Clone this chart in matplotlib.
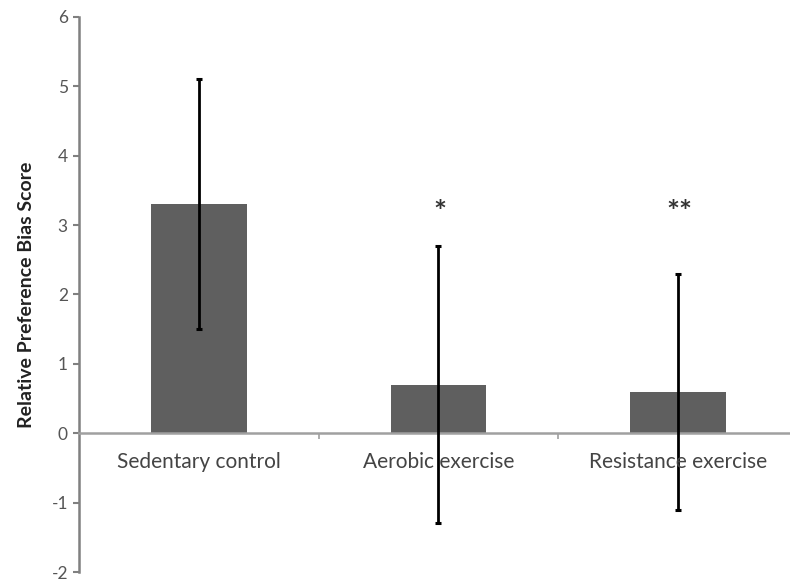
import numpy as np
import matplotlib.pyplot as plt

groups = ['Sedentary control', 'Aerobic exercise', 'Resistance exercise']
means = [3.3, 0.7, 0.6]
err_low = [1.5, -1.3, -1.1]
err_high = [5.1, 2.7, 2.3]
stars = ['', '*', '**']
star_level = 3.3

plt.rcParams['font.family'] = ['Lato', 'DejaVu Sans']
plt.rcParams['axes.unicode_minus'] = False

fig = plt.figure(figsize=(7.9, 5.84), dpi=100)
ax = fig.add_axes([0.1, 0.0205, 0.9, 0.9505])

x = np.arange(len(groups))
m = np.array(means)
yerr = [m - np.array(err_low), np.array(err_high) - m]

ax.bar(x, means, width=0.4, color='#5f5f5f', zorder=2)
ax.errorbar(x, means, yerr=yerr, fmt='none', ecolor='black', elinewidth=2,
            capsize=2.2, capthick=2.2, zorder=3)

for xi, s in zip(x, stars):
    if s:
        ax.annotate(s, (xi, star_level), xytext=(1, -6), textcoords='offset points',
                    ha='center', va='center', fontsize=22, color='#333333',
                    fontweight='bold')

ax.set_xlim(-0.5, 2.467)
ax.set_ylim(-2, 6)
ax.set_yticks(range(-2, 7))
ax.tick_params(axis='y', colors='#808080', labelcolor='#555555', labelsize=12.5,
               length=4, width=1.5, direction='out', pad=4)
ax.set_ylabel('Relative Preference Bias Score', fontsize=14, fontweight='bold',
              color='#222222', labelpad=12)

# category axis sits on zero, labels just below it
ax.spines['bottom'].set_position(('data', 0))
ax.spines['bottom'].set_color('#a0a0a0')
ax.spines['bottom'].set_linewidth(1.8)
ax.spines['left'].set_color('#808080')
ax.spines['left'].set_linewidth(1.8)
ax.spines['top'].set_visible(False)
ax.spines['right'].set_visible(False)

ax.set_xticks([0.5, 1.5])
ax.set_xticklabels([])
ax.tick_params(axis='x', colors='#a0a0a0', length=4, width=1.2, direction='out')
for xi, g in zip(x, groups):
    ax.text(xi, -0.42, g, ha='center', va='center', fontsize=15, color='#444444')

fig.savefig('out.png', dpi=100)
